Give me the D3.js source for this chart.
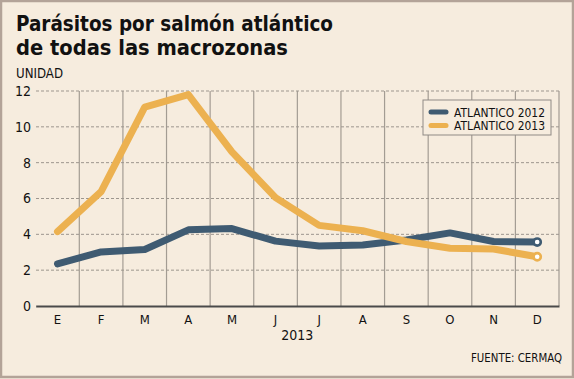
<!DOCTYPE html>
<html>
<head>
<meta charset="utf-8">
<script src="https://cdn.jsdelivr.net/npm/d3@7/dist/d3.min.js"></script>
<style>
  html, body { margin: 0; padding: 0; background: #f6ecde; }
  svg { display: block; }
  text { font-family: "DejaVu Sans Condensed", "DejaVu Sans", sans-serif; fill: #111; }
</style>
</head>
<body>
<script>
const months = ["E","F","M","A","M","J","J","A","S","O","N","D"];
const series2012 = [2.35, 3.02, 3.15, 4.25, 4.32, 3.62, 3.35, 3.40, 3.68, 4.08, 3.60, 3.57];
const series2013 = [4.15, 6.38, 11.1, 11.8, 8.6, 6.05, 4.5, 4.2, 3.6, 3.22, 3.18, 2.75];
const yTicks = [0, 2, 4, 6, 8, 10, 12];
const seriesNames = ["ATLANTICO 2012", "ATLANTICO 2013"];
const colors = ["#3f5b72", "#ecb150"];

const W = 574, H = 379;
const svg = d3.select("body").append("svg").attr("width", W).attr("height", H);

// background + frame
svg.append("rect").attr("x", 1).attr("y", 1).attr("width", W - 2).attr("height", H - 3)
  .attr("fill", "#f6ecde").attr("stroke", "#b3a398").attr("stroke-width", 2.5);

// titles
svg.append("text").attr("x", 16).attr("y", 31).attr("font-size", 22).attr("font-weight", "bold")
  .attr("textLength", 317).attr("lengthAdjust", "spacingAndGlyphs")
  .text("Parásitos por salmón atlántico");
svg.append("text").attr("x", 16).attr("y", 55).attr("font-size", 22).attr("font-weight", "bold")
  .attr("textLength", 272).attr("lengthAdjust", "spacingAndGlyphs")
  .text("de todas las macrozonas");
svg.append("text").attr("x", 16).attr("y", 78).attr("font-size", 13.5)
  .attr("textLength", 47).attr("lengthAdjust", "spacingAndGlyphs")
  .text("UNIDAD");

const x = d3.scaleBand().domain(d3.range(months.length)).range([35.7, 559]).padding(0);
const y = d3.scaleLinear().domain([0, 12]).range([306, 91]);
const cx = i => x(i) + x.bandwidth() / 2;

// vertical gridlines (band boundaries)
svg.append("g").selectAll("line").data(d3.range(1, months.length + 1)).join("line")
  .attr("x1", i => x.range()[0] + i * x.bandwidth()).attr("x2", i => x.range()[0] + i * x.bandwidth())
  .attr("y1", y(12)).attr("y2", y(0))
  .attr("stroke", "#a39c93").attr("stroke-width", 1.2);

// horizontal dashed gridlines
svg.append("g").selectAll("line").data(yTicks.filter(d => d > 0)).join("line")
  .attr("x1", 36).attr("x2", 559).attr("y1", d => y(d)).attr("y2", d => y(d))
  .attr("stroke", "#9d968e").attr("stroke-width", 1).attr("stroke-dasharray", "3,2");

// y axis labels
const yAxis = d3.axisLeft(y).tickValues(yTicks).tickSize(0).tickPadding(0).tickFormat(d3.format("d"));
const gy = svg.append("g").attr("transform", "translate(31,0)").call(yAxis);
gy.select(".domain").remove();
gy.selectAll("text").attr("font-size", 14).attr("fill", "#111")
  .attr("font-family", "'DejaVu Sans Condensed', 'DejaVu Sans', sans-serif");

// x axis
const xAxis = d3.axisBottom(x).tickSize(0).tickPadding(0).tickFormat(i => months[i]);
const gx = svg.append("g").attr("transform", "translate(0,306)").call(xAxis);
gx.select(".domain").attr("stroke", "#4a4a4a").attr("stroke-width", 2);
gx.selectAll("text").attr("font-size", 13).attr("fill", "#111").attr("dy", 0).attr("y", 18)
  .attr("font-family", "'DejaVu Sans', sans-serif");

svg.append("text").attr("x", (x.range()[0] + x.range()[1]) / 2).attr("y", 340)
  .attr("text-anchor", "middle").attr("font-size", 14).text("2013");

svg.append("text").attr("x", 562).attr("y", 362).attr("text-anchor", "end").attr("font-size", 12)
  .attr("textLength", 91).attr("lengthAdjust", "spacingAndGlyphs")
  .text("FUENTE: CERMAQ");

// lines
const line = d3.line().x((d, i) => cx(i)).y(d => y(d));
[series2012, series2013].forEach((s, k) => {
  svg.append("path").datum(s).attr("d", line)
    .attr("fill", "none").attr("stroke", colors[k]).attr("stroke-width", 7)
    .attr("stroke-linejoin", "round").attr("stroke-linecap", "round");
});
[series2012, series2013].forEach((s, k) => {
  const last = s.length - 1;
  svg.append("circle").attr("cx", cx(last)).attr("cy", y(s[last])).attr("r", 3.6)
    .attr("fill", "#fff").attr("stroke", colors[k]).attr("stroke-width", 2.6);
});

// legend
const lg = svg.append("g");
lg.append("rect").attr("x", 423).attr("y", 100).attr("width", 128).attr("height", 35)
  .attr("fill", "#f6ecde").attr("stroke", "#8f8a85").attr("stroke-width", 1);
seriesNames.forEach((n, k) => {
  const yy = 112 + k * 13.5;
  lg.append("line").attr("x1", 431).attr("x2", 446).attr("y1", yy).attr("y2", yy)
    .attr("stroke", colors[k]).attr("stroke-width", 5).attr("stroke-linecap", "round");
  lg.append("text").attr("x", 454).attr("y", yy + 4.5).attr("font-size", 12.5)
    .attr("textLength", 91).attr("lengthAdjust", "spacingAndGlyphs").text(n);
});
</script>
</body>
</html>
